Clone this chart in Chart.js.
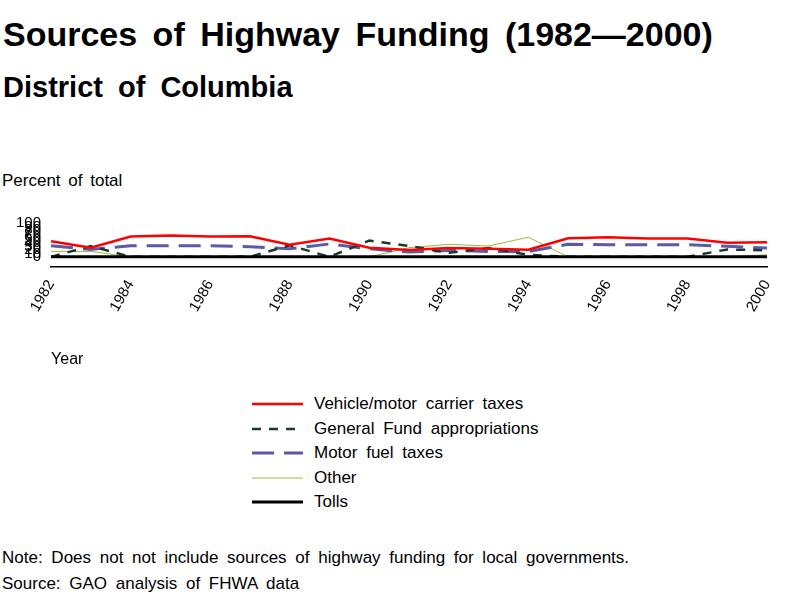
<!DOCTYPE html>
<html>
<head>
<meta charset="utf-8">
<script src="https://cdn.jsdelivr.net/npm/chart.js@4"></script>
<style>
  body { margin: 0; width: 800px; height: 600px; background: #fff; position: relative; overflow: hidden;
         font-family: "Liberation Sans", Arial, sans-serif; color: #000; }
  .txt { position: absolute; white-space: nowrap; word-spacing: 4px; }
  #title { left: 3px; top: 15px; font-size: 34px; font-weight: bold; word-spacing: 6px; }
  #subtitle { left: 3px; top: 71px; font-size: 29px; font-weight: bold; word-spacing: 7px; }
  #ylab { left: 2px; top: 171px; font-size: 17px; word-spacing: 3px; }
  #note { left: 2px; top: 548px; font-size: 17px; }
  #source { left: 2px; top: 574px; font-size: 17px; }
  #wrap { position: absolute; left: 0; top: 200px; width: 800px; height: 180px; }
  #legend { position: absolute; left: 252px; top: 392px; font-size: 17px; }
  #legend .row { height: 24.5px; display: flex; align-items: center; word-spacing: 4px; }
  #legend svg { margin-right: 11px; }
</style>
</head>
<body>
<div id="title" class="txt">Sources of Highway Funding (1982—2000)</div>
<div id="subtitle" class="txt">District of Columbia</div>
<div id="ylab" class="txt">Percent of total</div>
<div id="wrap"><canvas id="fundChart"></canvas></div>
<div id="legend"></div>
<div id="note" class="txt">Note: Does not not include sources of highway funding for local governments.</div>
<div id="source" class="txt">Source: GAO analysis of FHWA data</div>
<script>
const years = ['1982', '1983', '1984', '1985', '1986', '1987', '1988', '1989', '1990', '1991',
  '1992', '1993', '1994', '1995', '1996', '1997', '1998', '1999', '2000'];

// percent of total
const vehicleTaxes = [46, 27, 60, 63, 60, 61, 36, 54, 27, 20, 26, 24, 21, 55, 58, 54, 54, 42, 43];
const generalFund = [0, 32, 0, 0, 0, 0, 34, 0, 48, 32, 12, 26, 6, 0, 0, 0, 0, 22, 19];
const motorFuel = [33, 22, 33, 33, 33, 30, 24, 38, 24, 14, 19, 16, 16, 37, 36, 36, 36, 31, 26];
const other = [16, 16, 0, 0, 0, 0, 0, 0, 0, 27, 37, 32, 58, 0, 0, 0, 0, 0, 6];
const tolls = [0, 0, 0, 0, 0, 0, 0, 0, 0, 0, 0, 0, 0, 0, 0, 0, 0, 0, 0];

const series = [
  { label: 'Vehicle/motor carrier taxes', data: vehicleTaxes, color: '#ff0000', width: 2.5, dash: [], order: 2 },
  { label: 'General Fund appropriations', data: generalFund, color: '#1c3a2a', width: 2.5, dash: [9, 8], order: 3 },
  { label: 'Motor fuel taxes', data: motorFuel, color: '#5a5aa8', width: 3, dash: [22, 10], order: 4 },
  { label: 'Other', data: other, color: '#a4b43c', width: 1, dash: [], order: 5 },
  { label: 'Tolls', data: tolls, color: '#000000', width: 3, dash: [], order: 1 }
];

const ctx = document.getElementById('fundChart').getContext('2d');

const fundChart = new Chart(ctx, {
  type: 'line',
  data: {
    labels: years,
    datasets: series.map(s => ({
      label: s.label,
      data: s.data,
      borderColor: s.color,
      backgroundColor: s.color,
      borderWidth: s.width,
      borderDash: s.dash,
      pointRadius: 0,
      tension: 0,
      fill: false,
      order: s.order
    }))
  },
  options: {
    responsive: true,
    maintainAspectRatio: false,
    animation: false,
    layout: { padding: { left: 6, right: 33, top: 23, bottom: 11 } },
    plugins: {
      legend: { display: false },
      tooltip: { enabled: false }
    },
    scales: {
      x: {
        grid: { display: true, color: 'rgba(0,0,0,0)', drawOnChartArea: false, drawTicks: false },
        border: { display: true, color: '#000', width: 1.5 },
        // chart.js caps the axis at half the height; the plot here is very flat
        afterFit: scale => { scale.height = 102; },
        ticks: {
          autoSkip: false,
          minRotation: 60,
          maxRotation: 60,
          padding: 10,
          color: '#000',
          font: { family: 'Liberation Sans', size: 15 },
          callback: function (val, i) {
            return i % 2 === 0 ? years[i] : '';
          }
        },
        title: {
          display: true,
          text: 'Year',
          align: 'start',
          color: '#000',
          font: { family: 'Liberation Sans', size: 16 },
          padding: { top: 4, bottom: 0 }
        }
      },
      y: {
        min: -30,   // leaves the gap between the zero line and the axis line
        max: 100,
        grid: { display: false, drawTicks: false },
        border: { display: false },
        ticks: {
          stepSize: 10,
          autoSkip: false,
          padding: 10,
          color: '#000',
          font: { family: 'Liberation Sans', size: 15 },
          callback: v => (v < 0 ? '' : v)
        }
      }
    }
  }
});

// legend built from the same series
const legend = document.getElementById('legend');
series.forEach(s => {
  const row = document.createElement('div');
  row.className = 'row';
  const dash = s.dash.length ? ` stroke-dasharray="${s.dash.join(' ')}"` : '';
  row.innerHTML = `<svg width="51" height="6"><line x1="0" y1="3" x2="51" y2="3" stroke="${s.color}" stroke-width="${s.width}"${dash}/></svg><span>${s.label}</span>`;
  legend.appendChild(row);
});
</script>
</body>
</html>
